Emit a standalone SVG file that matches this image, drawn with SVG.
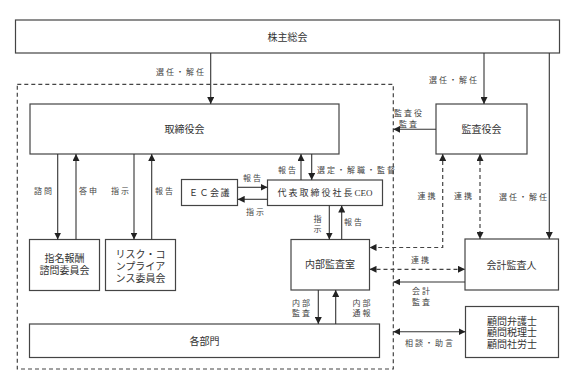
<svg xmlns="http://www.w3.org/2000/svg" width="574" height="381" viewBox="0 0 574 381">
<style>
.b{fill:#fff;stroke:#444;stroke-width:1.2}
.t{font-family:"Liberation Serif","Noto Sans CJK JP",serif;font-size:10px;fill:#333;text-anchor:middle;dominant-baseline:central}
.l{font-family:"Liberation Serif","Noto Sans CJK JP",serif;font-size:8px;fill:#444;text-anchor:middle;dominant-baseline:central;letter-spacing:2px}
.c{fill:none;stroke:#333;stroke-width:1.1}
.d{fill:none;stroke:#444;stroke-width:1.2;stroke-dasharray:4 3}
</style>
<defs>
<marker id="a" viewBox="0 0 10 10" refX="10" refY="5" markerWidth="7" markerHeight="7" markerUnits="userSpaceOnUse" orient="auto-start-reverse">
<path d="M0,0 L10,5 L0,10 Z" fill="#222"/>
</marker>
</defs>
<rect class="d" x="17.3" y="84.3" width="376" height="284.7"/>
<g id="n-kabunushi"><rect class="b" x="15.5" y="20" width="544" height="33"/><text class="t" x="287.5" y="37">株主総会</text></g>
<g id="n-torishimariyakukai"><rect class="b" x="30" y="104" width="309" height="50"/><text class="t" x="184.5" y="129">取締役会</text></g>
<g id="n-kansayakukai"><rect class="b" x="436" y="104" width="91" height="50"/><text class="t" x="481.5" y="129">監査役会</text></g>
<g id="n-ec"><rect class="b" x="181.5" y="179.5" width="56" height="26"/><text class="t" x="210" y="193" style="font-size:9px;letter-spacing:1.5px">ＥＣ会議</text></g>
<g id="n-ceo"><rect class="b" x="267.5" y="180" width="115" height="25.5"/><text class="t" x="325" y="193" style="font-size:9px;letter-spacing:2px">代表取締役社長<tspan style="letter-spacing:0">CEO</tspan></text></g>
<g id="n-shimei"><rect class="b" x="29.5" y="239.5" width="70" height="51"/><text class="t" y="258"><tspan x="64.5">指名報酬</tspan><tspan x="64.5" dy="12">諮問委員会</tspan></text></g>
<g id="n-risk"><rect class="b" x="105.5" y="239.5" width="70" height="51"/><text class="t" y="253.5"><tspan x="140.5">リスク・コ</tspan><tspan x="140.5" dy="12">ンプライア</tspan><tspan x="140.5" dy="12">ンス委員会</tspan></text></g>
<g id="n-naibu"><rect class="b" x="291" y="239.5" width="78.5" height="50.5"/><text class="t" x="330" y="264.5">内部監査室</text></g>
<g id="n-kaikei"><rect class="b" x="465" y="239" width="93.5" height="51"/><text class="t" x="511.5" y="265">会計監査人</text></g>
<g id="n-komon"><rect class="b" x="465.5" y="306.5" width="93" height="51"/><text class="t" y="320.5"><tspan x="512">顧問弁護士</tspan><tspan x="512" dy="11.8">顧問税理士</tspan><tspan x="512" dy="11.8">顧問社労士</tspan></text></g>
<g id="n-kakubumon"><rect class="b" x="29.5" y="324" width="350" height="33.5"/><text class="t" x="204.5" y="341">各部門</text></g>
<g id="connectors">
<path class="c" d="M210.7,53 V104" marker-end="url(#a)"/>
<path class="c" d="M484,53 V104" marker-end="url(#a)"/>
<path class="c" d="M549.3,53 V239" marker-end="url(#a)"/>
<path class="c" d="M436,129.3 H393.3" marker-end="url(#a)"/>
<path class="c" d="M57.7,154 V239.5" marker-end="url(#a)"/>
<path class="c" d="M76,239.5 V154" marker-end="url(#a)"/>
<path class="c" d="M134,154 V239.5" marker-end="url(#a)"/>
<path class="c" d="M151.7,239.5 V154" marker-end="url(#a)"/>
<path class="c" d="M301,180 V154" marker-end="url(#a)"/>
<path class="c" d="M311.7,154 V180" marker-end="url(#a)"/>
<path class="c" d="M237.7,187.3 H267.5" marker-end="url(#a)"/>
<path class="c" d="M267.5,199.3 H237.7" marker-end="url(#a)"/>
<path class="c" d="M329.3,205.5 V239.5" marker-end="url(#a)"/>
<path class="c" d="M341.7,239.5 V205.5" marker-end="url(#a)"/>
<path class="d" d="M442.7,154 V247.5 H369.5" marker-start="url(#a)" marker-end="url(#a)"/>
<path class="d" d="M480,154 V239" marker-start="url(#a)" marker-end="url(#a)"/>
<path class="d" d="M369.5,269.3 H465" marker-start="url(#a)" marker-end="url(#a)"/>
<path class="c" d="M465,282 H393.3" marker-end="url(#a)"/>
<path class="c" d="M318.3,290 V324" marker-end="url(#a)"/>
<path class="c" d="M335.7,324 V290" marker-end="url(#a)"/>
<path class="c" d="M393.3,331.7 H465.5" marker-start="url(#a)" marker-end="url(#a)"/>
<text class="l" x="181" y="72">選任・解任</text>
<text class="l" x="454" y="80">選任・解任</text>
<text class="l" x="524" y="197">選任・解任</text>
<text class="l" y="113"><tspan x="409">監査役</tspan><tspan x="409" dy="11">監査</tspan></text>
<text class="l" x="44" y="191.7">諮問</text>
<text class="l" x="89" y="191.7">答申</text>
<text class="l" x="121" y="191.7">指示</text>
<text class="l" x="165" y="191.7">報告</text>
<text class="l" x="288" y="170">報告</text>
<text class="l" x="317" y="170" style="text-anchor:start">選定・解職・監督</text>
<text class="l" x="253" y="178.5">報告</text>
<text class="l" x="256" y="212">指示</text>
<text class="l" y="218.7"><tspan x="318.5">指</tspan><tspan x="318.5" dy="10.6">示</tspan></text>
<text class="l" x="354" y="222.7">報告</text>
<text class="l" x="427.5" y="196">連携</text>
<text class="l" x="464" y="196">連携</text>
<text class="l" x="421" y="260">連携</text>
<text class="l" y="291"><tspan x="422">会計</tspan><tspan x="422" dy="11">監査</tspan></text>
<text class="l" y="302.7"><tspan x="302">内部</tspan><tspan x="302" dy="10.6">監査</tspan></text>
<text class="l" y="302.7"><tspan x="362.5">内部</tspan><tspan x="362.5" dy="10.6">通報</tspan></text>
<text class="l" x="430" y="343">相談・助言</text>
</g>
</svg>
